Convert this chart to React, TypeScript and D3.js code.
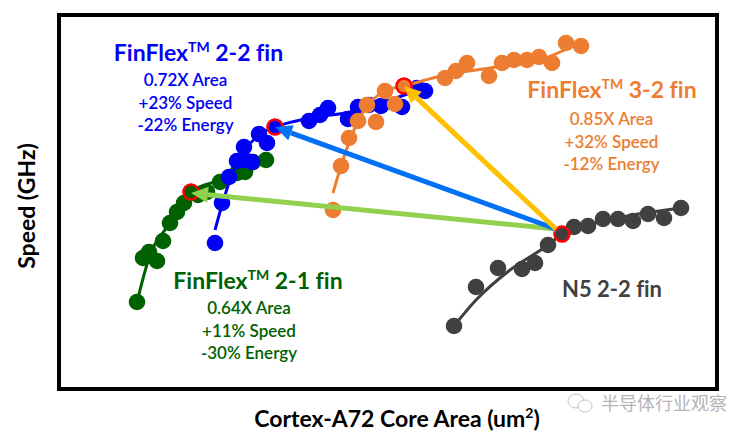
// App.tsx
import React, { useEffect, useRef } from 'react';
import * as d3 from 'd3';

type Pt = [number, number];

// no ticks on the original, so area and speed are in relative units
const n5Points: Pt[] = [[395, 63], [417, 102], [439, 121], [463, 120], [476, 126], [489, 144], [503, 155], [515, 162], [529, 163], [544, 170], [559, 170], [574, 168], [589, 175], [605, 171], [622, 181]];
const n5Fit: Pt[] = [[395, 63], [417, 89], [451, 119], [489, 144], [503, 155], [541, 167], [622, 181]];

const fin21Points: Pt[] = [[78, 87], [84, 131], [98, 128], [90, 137], [104, 148], [111, 166], [118, 177], [125, 186], [132, 197], [139, 194], [148, 197], [161, 207], [178, 216], [186, 217], [194, 227], [207, 229]];
const fin21Fit: Pt[] = [[78, 87], [90, 131], [111, 166], [132, 197], [161, 209], [201, 229]];

const fin22Points: Pt[] = [[156, 146], [163, 186], [170, 212], [178, 228], [186, 229], [193, 227], [185, 242], [208, 246], [200, 255], [216, 262], [250, 268], [261, 274], [269, 281], [289, 270], [299, 282], [310, 284], [322, 283], [343, 282], [358, 301], [366, 298]];
const fin22Fit: Pt[] = [[156, 159], [163, 184], [171, 209], [186, 239], [203, 256], [216, 262], [251, 271], [291, 277], [321, 286], [366, 301]];

const fin32Points: Pt[] = [[274, 179], [282, 223], [290, 251], [299, 268], [317, 267], [308, 284], [336, 285], [326, 298], [345, 303], [386, 311], [397, 318], [408, 326], [430, 313], [443, 326], [455, 329], [468, 329], [480, 332], [493, 326], [507, 346], [522, 343]];
const fin32Fit: Pt[] = [[274, 196], [282, 223], [299, 268], [326, 298], [345, 303], [386, 314], [431, 321], [481, 329], [522, 347]];

const arrowStart: Pt = [497, 160];
const arrowEnds: { to: Pt; color: string }[] = [
  { to: [132, 196], color: '#92D050' },
  { to: [216, 262], color: '#0070F5' },
  { to: [345, 303], color: '#FFC000' },
];

const seriesList = [
  { points: fin21Points, fit: fin21Fit, color: '#006100', mark: [132, 197] as Pt },
  { points: fin22Points, fit: fin22Fit, color: '#0000F5', mark: [216, 262] as Pt },
  { points: fin32Points, fit: fin32Fit, color: '#ED7D31', mark: [345, 303] as Pt },
  { points: n5Points, fit: n5Fit, color: '#404040', mark: [503, 155] as Pt },
];

const labels = [
  { name: 'FinFlex', fin: '2-2 fin', lines: ['0.72X Area', '+23% Speed', '-22% Energy'], color: '#0000F5', x: 198.5, y: 61, subX: 185.5, subY: 86 },
  { name: 'FinFlex', fin: '3-2 fin', lines: ['0.85X Area', '+32% Speed', '-12% Energy'], color: '#ED7D31', x: 612, y: 98, subX: 611.5, subY: 125 },
  { name: 'FinFlex', fin: '2-1 fin', lines: ['0.64X Area', '+11% Speed', '-30% Energy'], color: '#006100', x: 258, y: 289, subX: 249, subY: 314 },
];

const width = 751;
const height = 436;
const frame = { left: 59, right: 717, top: 15, bottom: 389 };

const App: React.FC = () => {
  const ref = useRef<SVGSVGElement>(null);

  useEffect(() => {
    const svg = d3.select(ref.current);
    svg.selectAll('*').remove();
    svg.style('font-variant-ligatures', 'none');

    const x = d3.scaleLinear().domain([0, 658]).range([frame.left, frame.right]);
    const y = d3.scaleLinear().domain([0, 374]).range([frame.bottom, frame.top]);
    const font = 'Lato, "Open Sans", sans-serif';

    svg.append('rect')
      .attr('x', frame.left)
      .attr('y', frame.top)
      .attr('width', frame.right - frame.left)
      .attr('height', frame.bottom - frame.top)
      .attr('fill', '#fff')
      .attr('stroke', '#000')
      .attr('stroke-width', 4);

    const line = d3.line<Pt>()
      .x(d => x(d[0]))
      .y(d => y(d[1]))
      .curve(d3.curveMonotoneX);

    seriesList.forEach(s => {
      const g = svg.append('g');
      g.append('path')
        .attr('d', line(s.fit))
        .attr('fill', 'none')
        .attr('stroke', s.color)
        .attr('stroke-width', 3);
      g.selectAll('circle.dot')
        .data(s.points)
        .enter()
        .append('circle')
        .attr('class', 'dot')
        .attr('cx', d => x(d[0]))
        .attr('cy', d => y(d[1]))
        .attr('r', 8.3)
        .attr('fill', s.color);
      // red ring on the reference point
      g.append('circle')
        .attr('cx', x(s.mark[0]))
        .attr('cy', y(s.mark[1]))
        .attr('r', 7.5)
        .attr('fill', s.color)
        .attr('stroke', '#FF0000')
        .attr('stroke-width', 2.5);
    });

    // arrows from the N5 point
    arrowEnds.forEach(a => {
      const x0 = x(arrowStart[0]);
      const y0 = y(arrowStart[1]);
      const x1 = x(a.to[0]);
      const y1 = y(a.to[1]);
      const len = Math.hypot(x1 - x0, y1 - y0);
      const ux = (x1 - x0) / len;
      const uy = (y1 - y0) / len;
      const headLen = 17;
      const headW = 8;
      const bx = x1 - ux * headLen;
      const by = y1 - uy * headLen;
      svg.append('line')
        .attr('x1', x0)
        .attr('y1', y0)
        .attr('x2', bx)
        .attr('y2', by)
        .attr('stroke', a.color)
        .attr('stroke-width', 5);
      svg.append('polygon')
        .attr('points', [[x1, y1], [bx - uy * headW, by + ux * headW], [bx + uy * headW, by - ux * headW]].join(' '))
        .attr('fill', a.color);
    });

    // annotation blocks
    labels.forEach(l => {
      const title = svg.append('text')
        .attr('x', l.x)
        .attr('y', l.y)
        .attr('text-anchor', 'middle')
        .attr('font-family', font)
        .attr('font-size', 23)
        .attr('font-weight', 700)
        .attr('fill', l.color);
      title.append('tspan').text(l.name);
      title.append('tspan').attr('dy', -9).attr('font-size', 14).text('TM');
      title.append('tspan').attr('dy', 9).text(' ' + l.fin);
      l.lines.forEach((t, i) => {
        svg.append('text')
          .attr('x', l.subX)
          .attr('y', l.subY + i * 22.7)
          .attr('text-anchor', 'middle')
          .attr('font-family', font)
          .attr('font-size', 17)
          .attr('font-weight', 600)
          .attr('fill', l.color)
          .text(t);
      });
    });

    svg.append('text')
      .attr('x', 562)
      .attr('y', 297)
      .attr('font-family', font)
      .attr('font-size', 22)
      .attr('font-weight', 700)
      .attr('fill', '#404040')
      .text('N5 2-2 fin');

    // axis titles
    svg.append('text')
      .attr('transform', 'translate(35,206) rotate(-90)')
      .attr('text-anchor', 'middle')
      .attr('font-family', font)
      .attr('font-size', 23)
      .attr('font-weight', 700)
      .attr('fill', '#000')
      .text('Speed (GHz)');

    const xTitle = svg.append('text')
      .attr('x', 397)
      .attr('y', 427)
      .attr('text-anchor', 'middle')
      .attr('font-family', font)
      .attr('font-size', 23)
      .attr('font-weight', 700)
      .attr('fill', '#000');
    xTitle.append('tspan').text('Cortex-A72 Core Area (um');
    xTitle.append('tspan').attr('dy', -9).attr('font-size', 14).text('2');
    xTitle.append('tspan').attr('dy', 9).text(')');

    // watermark
    const wm = svg.append('g').attr('fill', '#fff').attr('stroke', '#c4c4c4').attr('stroke-width', 1);
    wm.append('ellipse').attr('cx', 576).attr('cy', 401).attr('rx', 8).attr('ry', 7);
    wm.append('ellipse').attr('cx', 585).attr('cy', 406).attr('rx', 7).attr('ry', 6);
    svg.append('text')
      .attr('x', 601)
      .attr('y', 410)
      .attr('font-family', '"Noto Sans CJK SC", sans-serif')
      .attr('font-size', 18)
      .attr('fill', '#b4b4b4')
      .text('半导体行业观察');
  }, []);

  return (
    <div style={{ position: 'absolute', left: 0, top: 0 }}>
      <svg ref={ref} width={width} height={height} style={{ display: 'block' }} />
    </div>
  );
};

export default App;
